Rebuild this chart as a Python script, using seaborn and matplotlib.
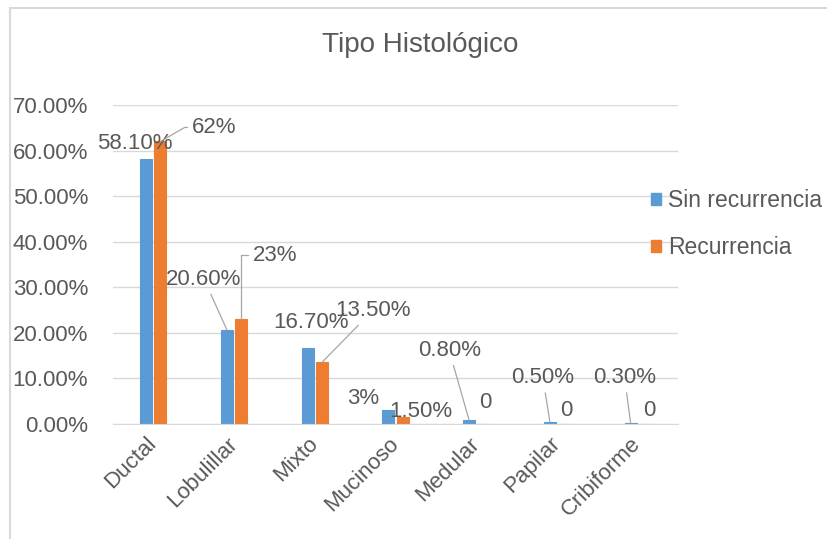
import numpy as np
import pandas as pd
import seaborn as sns
import matplotlib.pyplot as plt
from matplotlib.patches import Rectangle
from matplotlib.ticker import PercentFormatter

# Data
tipos = ['Ductal', 'Lobulillar', 'Mixto', 'Mucinoso', 'Medular', 'Papilar', 'Cribiforme']
sin_recurrencia = [0.581, 0.206, 0.167, 0.03, 0.008, 0.005, 0.003]
recurrencia = [0.62, 0.23, 0.135, 0.015, 0, 0, 0]
etiquetas_sin = ['58.10%', '20.60%', '16.70%', '3%', '0.80%', '0.50%', '0.30%']
etiquetas_rec = ['62%', '23%', '13.50%', '1.50%', '0', '0', '0']
series = ['Sin recurrencia', 'Recurrencia']

# label offsets (pixels from bar top) and whether a leader line is drawn
off_sin = [(-11, 16), (-23, 51), (3, 25), (-25, 12), (-20, 70), (-7, 44), (-6, 45)]
lead_sin = [False, True, False, False, True, True, True]
off_rec = [(54, 14), (34, 64), (51, 52), (18, 6), (2, 22), (2, 14), (5, 14)]
lead_rec = [True, True, True, False, False, False, False]

df = pd.DataFrame({
    'Tipo': tipos * 2,
    'Valor': sin_recurrencia + recurrencia,
    'Serie': [series[0]] * len(tipos) + [series[1]] * len(tipos),
})

sns.set_style('white')
plt.rcParams['font.family'] = ['Liberation Sans', 'DejaVu Sans']
txt = '#595959'
colores = ['#5B9BD5', '#ED7D31']

fig = plt.figure(figsize=(8.27, 5.39), dpi=100)
ax = fig.add_axes([113 / 827, 1 - 424 / 539, (678 - 113) / 827, (424 - 105) / 539])

sns.barplot(data=df, x='Tipo', y='Valor', hue='Serie', palette=colores,
            width=0.35, gap=0.15, legend=False, ax=ax, saturation=1)

# thin edge so the tiny bars stay visible, as in the original
for cont, c in zip(ax.containers, colores):
    for bar in cont:
        bar.set_edgecolor(c)
        bar.set_linewidth(0.8)

ax.set_ylim(0, 0.70)
ax.set_yticks(np.arange(0, 0.71, 0.1))
ax.yaxis.set_major_formatter(PercentFormatter(xmax=1, decimals=2))
ax.grid(axis='y', color='#D9D9D9', lw=1)
ax.set_axisbelow(True)
for s in ['top', 'right', 'left']:
    ax.spines[s].set_visible(False)
ax.spines['bottom'].set_color('#D9D9D9')
ax.set_xlabel('')
ax.set_ylabel('')
ax.tick_params(axis='y', length=0, pad=18, labelsize=16, labelcolor=txt)
ax.tick_params(axis='x', length=0, pad=12, labelsize=16, labelcolor=txt)
for lab in ax.get_xticklabels():
    lab.set_rotation(45)
    lab.set_ha('right')
    lab.set_va('center')
    lab.set_rotation_mode('anchor')

fig.text(420 / 827, 1 - 45 / 539, 'Tipo Histológico', fontsize=20, color=txt,
         ha='center', va='center')

# data labels
linea = dict(arrowstyle='-', color='#A6A6A6', lw=0.9, shrinkA=1, shrinkB=0)
conexion_rec = ['angle,angleA=180,angleB=30,rad=0', 'angle,angleA=180,angleB=90,rad=0',
                'arc3,rad=0', None, None, None, None]
for cont, etiquetas, offs, leads, con in [
        (ax.containers[0], etiquetas_sin, off_sin, lead_sin, ['arc3,rad=0'] * 7),
        (ax.containers[1], etiquetas_rec, off_rec, lead_rec, conexion_rec)]:
    for bar, et, off, lead, c in zip(cont, etiquetas, offs, leads, con):
        x = bar.get_x() + bar.get_width() / 2
        y = bar.get_height()
        props = None
        if lead:
            props = dict(linea, connectionstyle=c)
        ax.annotate(et, xy=(x, y), xytext=off, textcoords='offset pixels',
                    ha='center', va='center', fontsize=16, color=txt,
                    arrowprops=props, annotation_clip=False)

# legend
handles = [Rectangle((0, 0), 1, 1, color=c) for c in colores]
fig.legend(handles, series, loc='center left', bbox_to_anchor=(651 / 827, 1 - 224 / 539),
           frameon=False, fontsize=16.5, labelcolor=txt, handlelength=0.45, handleheight=0.45,
           handletextpad=0.3, labelspacing=1.05, borderpad=0, borderaxespad=0)

# chart border
fig.add_artist(Rectangle((10 / 827, -0.1), 1.0, 1 - 8 / 539 + 0.1, transform=fig.transFigure,
                         fill=False, edgecolor='#D9D9D9', lw=1.5))

fig.savefig('out.png', dpi=100)
